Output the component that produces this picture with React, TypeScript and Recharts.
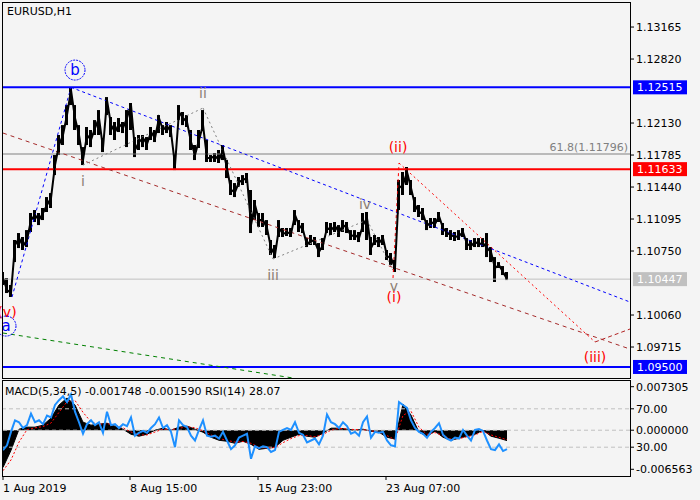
import { ComposedChart, Line, Area, Bar, XAxis, YAxis, ReferenceLine, ReferenceDot } from "recharts"

const FONT = "'DejaVu Sans', sans-serif"
const BG = "#f4f4f4"

// H1 closes, one value every 4th bar (bar index ~ 1px)
const close = [
  1.10459, 1.1033, 1.10297, 1.10815, 1.1089, 1.10804, 1.10869, 1.11084, 1.11138, 1.11084,
  1.1116, 1.11246, 1.11321, 1.11677, 1.11893, 1.12001, 1.12216, 1.12486, 1.12184, 1.12001,
  1.11731, 1.12001, 1.11947, 1.12076, 1.12184, 1.11861, 1.12378, 1.12109, 1.12033, 1.12119,
  1.12076, 1.12184, 1.12324, 1.11839, 1.11925, 1.11968, 1.11904, 1.12033, 1.11968, 1.12184,
  1.12055, 1.12098, 1.12033, 1.11677, 1.12249, 1.12184, 1.12141, 1.11925, 1.11785, 1.11947,
  1.12109, 1.11753, 1.11753, 1.11774, 1.11731, 1.11839, 1.11645, 1.11408, 1.11386, 1.11494,
  1.11516, 1.11537, 1.1103, 1.11246, 1.11084, 1.11084, 1.10998, 1.10782, 1.10707, 1.10998,
  1.10933, 1.10955, 1.10933, 1.11138, 1.1103, 1.10977, 1.10815, 1.10869, 1.10847, 1.10739,
  1.10815, 1.10998, 1.10977, 1.1102, 1.10955, 1.1103, 1.10998, 1.10912, 1.10923, 1.1089,
  1.1103, 1.11106, 1.10782, 1.10869, 1.10836, 1.1089, 1.10696, 1.10675, 1.10567, 1.11429,
  1.11462, 1.11602, 1.11429, 1.11246, 1.11171, 1.11149, 1.1102, 1.11063, 1.11041, 1.11127,
  1.10998, 1.10944, 1.10923, 1.10901, 1.10912, 1.10955, 1.10826, 1.10804, 1.10847, 1.10826,
  1.10836, 1.10782, 1.10739, 1.10567, 1.10599, 1.10524, 1.10447,
]

// highs / lows of the same 4-bar groups
const high = [
  1.10524, 1.10459, 1.10384, 1.10869, 1.10944, 1.10901, 1.10976, 1.1116, 1.11192, 1.1116,
  1.11214, 1.11332, 1.11375, 1.11785, 1.12001, 1.12108, 1.12324, 1.12515, 1.12324, 1.12108,
  1.11871, 1.12087, 1.12055, 1.12162, 1.1227, 1.11968, 1.1241, 1.12195, 1.12141, 1.12184,
  1.12141, 1.1227, 1.12346, 1.11979, 1.12001, 1.12001, 1.11979, 1.12087, 1.12055, 1.12216,
  1.12108, 1.12141, 1.12108, 1.11785, 1.12324, 1.12249, 1.12216, 1.12055, 1.11893, 1.12055,
  1.1227, 1.11947, 1.11785, 1.11807, 1.11839, 1.11893, 1.11731, 1.11516, 1.11483, 1.11548,
  1.11569, 1.11591, 1.11408, 1.113, 1.1116, 1.1116, 1.11084, 1.10869, 1.10815, 1.11084,
  1.10998, 1.10998, 1.10998, 1.11192, 1.11084, 1.11052, 1.1089, 1.10923, 1.10901, 1.10836,
  1.1089, 1.11063, 1.11052, 1.11063, 1.1103, 1.11084, 1.11063, 1.10976, 1.10976, 1.10955,
  1.1116, 1.11171, 1.10901, 1.10923, 1.10901, 1.10923, 1.10761, 1.10729, 1.10653, 1.11516,
  1.11602, 1.11656, 1.11516, 1.11332, 1.11246, 1.11214, 1.11084, 1.11106, 1.11106, 1.11171,
  1.11052, 1.10998, 1.10976, 1.10955, 1.10976, 1.10998, 1.1089, 1.10869, 1.1089, 1.1089,
  1.1089, 1.10944, 1.10793, 1.10685, 1.10631, 1.10588, 1.10524,
]
const low = [
  1.10384, 1.10297, 1.10254, 1.10631, 1.10782, 1.10761, 1.10793, 1.10955, 1.11063, 1.1103,
  1.11084, 1.11171, 1.11214, 1.11569, 1.11785, 1.11893, 1.12108, 1.12324, 1.12055, 1.11893,
  1.11677, 1.11893, 1.11871, 1.12001, 1.12001, 1.11817, 1.12216, 1.12001, 1.11947, 1.12033,
  1.12022, 1.11871, 1.12055, 1.11763, 1.11839, 1.11871, 1.11839, 1.11947, 1.11925, 1.12022,
  1.12001, 1.12022, 1.11979, 1.11623, 1.12162, 1.12108, 1.12087, 1.11839, 1.11731, 1.11861,
  1.12055, 1.1171, 1.1171, 1.1171, 1.11699, 1.11731, 1.11537, 1.11354, 1.11332, 1.1144,
  1.11462, 1.11483, 1.10944, 1.11084, 1.11009, 1.11009, 1.10923, 1.10707, 1.10675, 1.10901,
  1.10901, 1.10912, 1.10901, 1.1103, 1.10955, 1.10944, 1.10793, 1.10815, 1.10815, 1.10685,
  1.10761, 1.10944, 1.10923, 1.10955, 1.10901, 1.10955, 1.10944, 1.10869, 1.10869, 1.10847,
  1.10955, 1.10869, 1.10707, 1.10815, 1.10793, 1.10815, 1.10653, 1.10599, 1.10524, 1.11192,
  1.11354, 1.11462, 1.11354, 1.11171, 1.11117, 1.11084, 1.10976, 1.10998, 1.10998, 1.11063,
  1.10923, 1.10901, 1.10869, 1.10858, 1.10869, 1.10901, 1.10761, 1.10761, 1.10793, 1.10793,
  1.10793, 1.10685, 1.10631, 1.10416, 1.10567, 1.10491, 1.10437,
]

// RSI(14), same spacing as close
const rsi = [
  27, 32, 46, 58, 56, 50, 53, 65, 56, 58,
  54, 63, 61, 74, 79, 83, 77, 85, 67, 56,
  44, 54, 58, 53, 56, 45, 67, 53, 54, 50,
  54, 52, 61, 42, 45, 47, 45, 50, 54, 61,
  50, 53, 46, 30, 58, 53, 51, 42, 37, 48,
  58, 42, 41, 42, 39, 46, 37, 28, 32, 40,
  42, 44, 18, 31, 29, 31, 30, 25, 27, 46,
  48, 50, 48, 56, 45, 43, 35, 37, 39, 33,
  42, 64, 56, 54, 50, 56, 52, 44, 46, 42,
  56, 62, 40, 46, 45, 46, 37, 32, 31, 77,
  74, 71, 58, 50, 46, 44, 40, 46, 50, 55,
  43, 39, 37, 40, 39, 48, 42, 37, 48, 49,
  47, 37, 28, 27, 33, 26, 28.07,
]

// MACD main + signal, one value every 8th bar
const macd = [
  -0.00625, -0.00338, 0.00017, 0.00051, 0.00051, 0.00085, 0.00203, 0.00423, 0.00541, 0.00423,
  0.00135, 0.00085, 0.00101, 0.00118, 0.00068, 0.00017, -0.00068, -0.00101, -0.00068, 0.0,
  0.00034, 0.0, 0.00051, 0.00068, 0.00017, -0.00034, -0.00118, -0.00169, -0.00186, -0.0022,
  -0.00186, -0.00237, -0.00321, -0.00304, -0.00287, -0.00169, -0.00118, -0.00068, -0.00101, -0.00118,
  -0.00051, 0.00034, 0.00034, 0.00017, 0.0, 0.00017, -0.00017, -0.00034, -0.00118, -0.0015,
  0.00439, 0.00254, -0.00034, -0.00101, -0.00017, -0.00118, -0.00169, -0.00135, -0.00101, -0.00068,
  0.0, -0.00101, -0.00135, -0.001748,
]
const signal = [
  -0.0068, -0.005, -0.002, 0.0001, 0.0004, 0.0006, 0.0012, 0.003, 0.0048, 0.005,
  0.003, 0.0014, 0.001, 0.0011, 0.0009, 0.0004, -0.0003, -0.0008, -0.0008, -0.0003,
  0.0002, 0.0001, 0.0003, 0.0006, 0.0004, -0.0001, -0.0008, -0.0014, -0.0017, -0.002,
  -0.0019, -0.0022, -0.0029, -0.003, -0.0029, -0.0021, -0.0014, -0.0009, -0.0009, -0.0011,
  -0.0007, 0.0, 0.0003, 0.0002, 0.0001, 0.0001, -0.0001, -0.0003, -0.0009, -0.0016,
  0.0025, 0.0032, 0.0005, -0.0007, -0.0004, -0.0009, -0.0015, -0.0014, -0.0011, -0.0008,
  -0.0002, -0.0008, -0.0012, -0.00159,
]

const priceTicks = [1.13165, 1.1282, 1.1213, 1.11785, 1.1144, 1.11095, 1.1075, 1.1006, 1.09715]
const macdTicks = [0.007305, 0, -0.006563]
const dateTicks = [0, 127, 255, 383]
const dateLabels = ["1 Aug 2019", "8 Aug 15:00", "15 Aug 23:00", "23 Aug 07:00"]

// horizontal levels
const levels = [
  { y: 1.12515, color: "#0000ff", w: 2, box: true },
  { y: 1.11796, color: "#808080", w: 1, box: false },
  { y: 1.11633, color: "#ff0000", w: 2, box: true },
  { y: 1.10447, color: "#c0c0c0", w: 1, box: true },
  { y: 1.095, color: "#0000ff", w: 2, box: true },
]

// wave lines: [bar, price] -> [bar, price]
const waveLines = [
  { a: [9, 1.10254], b: [68, 1.12515], color: "#0000ff", dash: "3 3" },
  { a: [68, 1.12515], b: [627, 1.102], color: "#0000ff", dash: "3 3" },
  { a: [0, 1.12022], b: [627, 1.09693], color: "#a52a2a", dash: "4 4" },
  { a: [0, 1.09866], b: [290, 1.09381], color: "#008000", dash: "4 4" },
  { a: [80, 1.11677], b: [200, 1.12292], color: "#808080", dash: "2 3" },
  { a: [200, 1.12292], b: [270, 1.10664], color: "#808080", dash: "2 3" },
  { a: [270, 1.10664], b: [364, 1.11084], color: "#808080", dash: "2 3" },
  { a: [364, 1.11084], b: [390, 1.10545], color: "#808080", dash: "2 3" },
  { a: [390, 1.10459], b: [396, 1.11699], color: "#ff0000", dash: "3 3" },
  { a: [396, 1.11699], b: [592, 1.09769], color: "#ff0000", dash: "2 3" },
  { a: [592, 1.09769], b: [627, 1.09909], color: "#b22222", dash: "4 3" },
]

const waveLabels = [
  { i: 80, p: 1.11505, text: "i", color: "#8b7d72" },
  { i: 200, p: 1.12453, text: "ii", color: "#8b7d72" },
  { i: 270, p: 1.10491, text: "iii", color: "#8b7d72" },
  { i: 362, p: 1.11257, text: "iv", color: "#8b7d72" },
  { i: 391, p: 1.10373, text: "v", color: "#8b7d72" },
  { i: 4, p: 1.10092, text: "(v)", color: "#ff0000" },
  { i: 391, p: 1.10254, text: "(i)", color: "#ff0000" },
  { i: 395, p: 1.11871, text: "(ii)", color: "#ff0000" },
  { i: 592, p: 1.09607, text: "(iii)", color: "#ff0000" },
]
const circleLabels = [
  { i: 72, p: 1.12701, text: "b" },
  { i: 3, p: 1.09941, text: "a" },
]

const priceRows = close.map((p, k) => ({ i: k * 4, p, range: [low[k], high[k]] }))
const macdRows = rsi.map((r, k) => ({
  i: k * 4,
  rsi: r,
  macd: k % 2 === 0 ? macd[k / 2] : null,
  signal: k % 2 === 0 ? signal[k / 2] : null,
}))

const priceBox = (value: number, bg: string) => (props: any) => {
  const vb = props.viewBox
  const x = vb.x + vb.width + 3
  const y = vb.y
  return (
    <g>
      <rect x={x} y={y - 7} width={54} height={14} fill={bg} />
      <text x={x + 4} y={y + 4} fill="#fff" fontSize={11} fontFamily={FONT}>
        {value.toFixed(5)}
      </text>
    </g>
  )
}

const fiboLabel = (props: any) => {
  const vb = props.viewBox
  return (
    <text x={vb.x + vb.width - 2} y={vb.y - 3} textAnchor="end" fill="#808080" fontSize={11} fontFamily={FONT}>
      61.8(1.11796)
    </text>
  )
}

const rsiLabel = (text: string) => (props: any) => {
  const vb = props.viewBox
  const x = vb.x + vb.width
  return (
    <g>
      <line x1={x} x2={x + 4} y1={vb.y} y2={vb.y} stroke="#000" />
      <text x={x + 6} y={vb.y + 4} fill="#000" fontSize={11} fontFamily={FONT}>
        {text}
      </text>
    </g>
  )
}

const textShape = (text: string, color: string) => (props: any) => (
  <text x={props.cx} y={props.cy + 5} textAnchor="middle" fill={color} fontSize={14} fontFamily={FONT}>
    {text}
  </text>
)

const circleShape = (text: string) => (props: any) => (
  <g>
    <circle cx={props.cx} cy={props.cy} r={10} fill="none" stroke="#0000ff" strokeDasharray="2 1" />
    <text x={props.cx} y={props.cy + 5} textAnchor="middle" fill="#0000ff" fontSize={15} fontFamily={FONT}>
      {text}
    </text>
  </g>
)

const DateTick = (props: any) => {
  const idx = dateTicks.indexOf(props.payload.value)
  return (
    <text x={props.x} y={props.y + 10} textAnchor="start" fill="#000" fontSize={11} fontFamily={FONT}>
      {dateLabels[idx]}
    </text>
  )
}

export default function App() {
  return (
    <div style={{ position: "absolute", left: 0, top: 0, width: 700, height: 500, background: BG, fontFamily: FONT }}>
      <div style={{ position: "absolute", left: 0, top: 0 }}>
        <ComposedChart width={700} height={380} data={priceRows} margin={{ top: 2, right: 0, bottom: 2, left: 2 }}>
          <XAxis type="number" dataKey="i" domain={[-1, 627]} hide allowDataOverflow />
          <YAxis
            orientation="right"
            width={70}
            domain={[1.09381, 1.13435]}
            allowDataOverflow
            ticks={priceTicks}
            interval={0}
            tickFormatter={(v: number) => v.toFixed(5)}
            axisLine={false}
            tickSize={4}
            tickLine={{ stroke: "#000" }}
            tick={{ fill: "#000", fontSize: 11, fontFamily: FONT }}
          />
          {levels.map((l) => (
            <ReferenceLine
              key={l.y}
              y={l.y}
              stroke={l.color}
              strokeWidth={l.w}
              label={l.box ? priceBox(l.y, l.color) : fiboLabel}
            />
          ))}
          {waveLines.map((s, n) => (
            <ReferenceLine
              key={n}
              segment={[{ x: s.a[0], y: s.a[1] }, { x: s.b[0], y: s.b[1] }]}
              stroke={s.color}
              strokeDasharray={s.dash}
              ifOverflow="hidden"
            />
          ))}
          <Bar dataKey="range" fill="#000" barSize={3} isAnimationActive={false} />
          <Line
            dataKey="p"
            type="linear"
            stroke="#000"
            strokeWidth={2}
            dot={false}
            isAnimationActive={false}
          />
          {waveLabels.map((w, n) => (
            <ReferenceDot key={n} x={w.i} y={w.p} r={1} ifOverflow="hidden" shape={textShape(w.text, w.color)} />
          ))}
          {circleLabels.map((c) => (
            <ReferenceDot key={c.text} x={c.i} y={c.p} r={10} ifOverflow="hidden" shape={circleShape(c.text)} />
          ))}
        </ComposedChart>
      </div>

      <div style={{ position: "absolute", left: 0, top: 378 }}>
        <ComposedChart width={700} height={122} data={macdRows} margin={{ top: 2, right: 0, bottom: 0, left: 2 }}>
          <XAxis
            type="number"
            dataKey="i"
            domain={[-1, 627]}
            allowDataOverflow
            ticks={dateTicks}
            interval={0}
            height={24}
            axisLine={false}
            tickSize={4}
            tickLine={{ stroke: "#000" }}
            tick={<DateTick />}
          />
          <YAxis
            yAxisId="macd"
            orientation="right"
            width={70}
            domain={[-0.00769, 0.00843]}
            allowDataOverflow
            ticks={macdTicks}
            interval={0}
            tickFormatter={(v: number) => v.toFixed(6)}
            axisLine={false}
            tickSize={4}
            tickLine={{ stroke: "#000" }}
            tick={{ fill: "#000", fontSize: 11, fontFamily: FONT }}
          />
          <YAxis yAxisId="rsi" domain={[0, 100]} hide />
          <ReferenceLine yAxisId="macd" y={0} stroke="#c0c0c0" strokeDasharray="4 3" />
          <ReferenceLine yAxisId="rsi" y={70} stroke="#c0c0c0" strokeDasharray="4 3" label={rsiLabel("70.00")} />
          <ReferenceLine yAxisId="rsi" y={30} stroke="#c0c0c0" strokeDasharray="4 3" label={rsiLabel("30.00")} />
          <Area
            yAxisId="macd"
            dataKey="macd"
            type="linear"
            baseValue={0}
            connectNulls
            stroke="#000"
            strokeWidth={1}
            fill="#000"
            fillOpacity={1}
            isAnimationActive={false}
          />
          <Line
            yAxisId="macd"
            dataKey="signal"
            type="linear"
            connectNulls
            stroke="#ff0000"
            strokeWidth={1}
            strokeDasharray="2 2"
            dot={false}
            isAnimationActive={false}
          />
          <Line
            yAxisId="rsi"
            dataKey="rsi"
            type="linear"
            stroke="#1e90ff"
            strokeWidth={2}
            dot={false}
            isAnimationActive={false}
          />
        </ComposedChart>
      </div>

      <div style={{ position: "absolute", left: 2, top: 2, width: 627, height: 375, border: "1px solid #000", pointerEvents: "none" }} />
      <div style={{ position: "absolute", left: 2, top: 380, width: 627, height: 95, border: "1px solid #000", pointerEvents: "none" }} />
      <div style={{ position: "absolute", left: 7, top: 5, fontSize: 11, color: "#000" }}>EURUSD,H1</div>
      <div style={{ position: "absolute", left: 5, top: 385, fontSize: 11, color: "#000" }}>
        MACD(5,34,5) -0.001748 -0.001590 RSI(14) 28.07
      </div>
    </div>
  )
}
